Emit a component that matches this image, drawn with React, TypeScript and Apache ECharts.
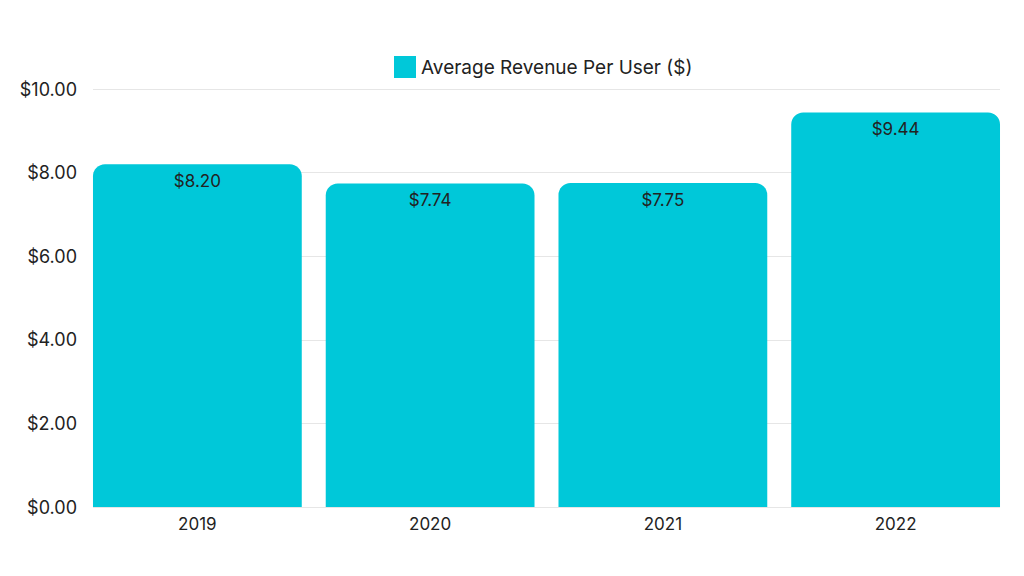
import React, { useEffect, useRef } from "react";
import * as echarts from "echarts";

const categories = ["2019", "2020", "2021", "2022"];
const arpu = [8.2, 7.74, 7.75, 9.44];
const seriesName = "Average Revenue Per User ($)";

export default function App() {
  const ref = useRef<HTMLDivElement>(null);
  useEffect(() => {
    if (!ref.current) return;
    const chart = echarts.init(ref.current, null, { renderer: "svg" });
    const font = "Inter, 'Noto Sans', sans-serif";
    chart.setOption({
      animation: false,
      textStyle: { fontFamily: font },
      legend: {
        top: 51,
        left: 389,
        itemWidth: 22,
        itemHeight: 22,
        itemGap: 7,
        icon: "rect",
        textStyle: { fontSize: 19, color: "#222", fontFamily: font },
        data: [seriesName],
      },
      grid: [
        { left: 81, right: 12, top: 89, bottom: 69, containLabel: false },
        { left: 93, right: 24, top: 89, bottom: 69, containLabel: false },
      ],
      xAxis: [
        {
          type: "category",
          gridIndex: 0,
          data: categories,
          axisLine: { show: false },
          axisTick: { show: false },
          axisLabel: { fontSize: 17, color: "#222", margin: 8, fontFamily: font },
        },
        { type: "value", gridIndex: 1, show: false, min: 0, max: 1 },
      ],
      yAxis: [
        {
          type: "value",
          gridIndex: 0,
          min: 0,
          max: 10,
          interval: 2,
          axisLine: { show: false },
          axisTick: { show: false },
          axisLabel: {
            fontSize: 18,
            color: "#222",
            margin: 4,
            fontFamily: font,
            formatter: (v: number) => "$" + v.toFixed(2),
          },
          splitLine: { show: false },
        },
        {
          type: "value",
          gridIndex: 1,
          min: 0,
          max: 10,
          interval: 2,
          axisLine: { show: false },
          axisTick: { show: false },
          axisLabel: { show: false },
          splitLine: { show: true, lineStyle: { color: "#e6e6e6", width: 1 } },
        },
      ],
      series: [
        {
          name: seriesName,
          type: "bar",
          xAxisIndex: 0,
          yAxisIndex: 0,
          data: arpu,
          barCategoryGap: "10.3%",
          itemStyle: { color: "#00C8D9", borderRadius: [12, 12, 0, 0] },
          label: {
            show: true,
            position: "insideTop",
            distance: 8,
            fontSize: 17,
            color: "#222",
            fontFamily: font,
            formatter: (p: any) => "$" + p.value.toFixed(2),
          },
        },
      ],
    });
    return () => chart.dispose();
  }, []);
  return <div ref={ref} style={{ width: 1024, height: 576, position: "absolute", left: 0, top: 0 }} />;
}
